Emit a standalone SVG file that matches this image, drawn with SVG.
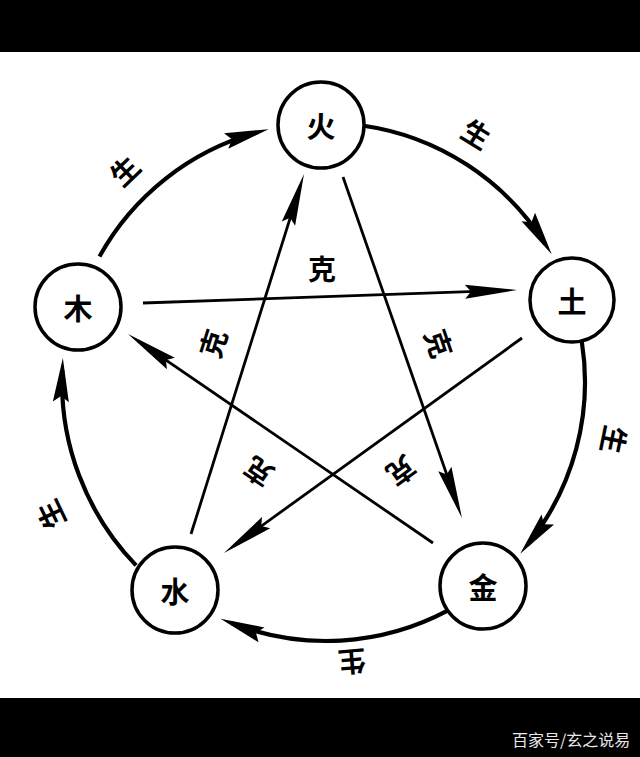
<svg xmlns="http://www.w3.org/2000/svg" width="640" height="757" viewBox="0 0 640 757">
<style>
.bg{fill:#000}
.node circle{fill:#fff;stroke:#000;stroke-width:3.5}
.node text,.lbl{font-family:"Noto Sans CJK SC","Noto Sans CJK TC",sans-serif;font-weight:700;fill:#000;text-anchor:middle;dominant-baseline:central}
.node text{font-size:29px}
.lbl{font-size:28px}
.arc{fill:none;stroke:#000;stroke-width:4.2;marker-end:url(#ah)}
.ke{fill:none;stroke:#000;stroke-width:2.8;marker-end:url(#ah2)}
.wm{font-family:"Noto Sans CJK SC",sans-serif;font-size:16px;fill:#e8e8e8}
</style>
<defs>
<marker id="ah" viewBox="-34 -10 48 20" refX="0" refY="0" markerWidth="48" markerHeight="20" markerUnits="userSpaceOnUse" orient="auto">
<path d="M12,0 L-32,-8 L-26,0 L-32,8 Z" fill="#000"/>
</marker>
<marker id="ah2" viewBox="-42 -9 56 18" refX="0" refY="0" markerWidth="56" markerHeight="18" markerUnits="userSpaceOnUse" orient="auto">
<path d="M12,0 L-40,-7 L-34,0 L-40,7 Z" fill="#000"/>
</marker>
</defs>
<rect x="0" y="0" width="640" height="757" fill="#fff"/>
<rect class="bg" x="0" y="0" width="640" height="52"/>
<rect class="bg" x="0" y="698" width="640" height="59"/>
<text class="wm" x="512" y="746">百家号/玄之说易</text>

<g id="connectors">
<path class="arc" d="M99.5,256.4 A259,259 0 0 1 257.0,132.4"/>
<path class="arc" d="M362.0,125.5 A259,259 0 0 1 545.3,244.2"/>
<path class="arc" d="M581.8,341.5 A259,259 0 0 1 527.7,544.5"/>
<path class="arc" d="M447.6,610.7 A259,259 0 0 1 231.7,623.2"/>
<path class="arc" d="M136.1,565.4 A264,264 0 0 1 62.3,370.0"/>

<path class="ke" d="M143,303 L505.0,290.4"/>
<path class="ke" d="M522,338 L233.7,546.0"/>
<path class="ke" d="M191,534 L300.4,185.4"/>
<path class="ke" d="M343,177 L458.0,506.7"/>
<path class="ke" d="M433,543 L137.9,340.8"/>

<text class="lbl" transform="translate(124,170) rotate(-44)">生</text>
<text class="lbl" transform="translate(477,133) rotate(31.5)">生</text>
<text class="lbl" transform="translate(615,440) rotate(101.5)">生</text>
<text class="lbl" transform="translate(352,663) rotate(175)">生</text>
<text class="lbl" transform="translate(50,515) rotate(-115.5)">生</text>

<text class="lbl" transform="translate(322,268)">克</text>
<text class="lbl" transform="translate(212,343) rotate(-72.5)">克</text>
<text class="lbl" transform="translate(440,343) rotate(71)">克</text>
<text class="lbl" transform="translate(402,472) rotate(144)">克</text>
<text class="lbl" transform="translate(258,473) rotate(-145.6)">克</text>
</g>

<g id="node-huo" class="node"><circle cx="321" cy="125" r="43"/><text x="321" y="125">火</text></g>
<g id="node-mu" class="node"><circle cx="78" cy="307" r="43"/><text x="78" y="307">木</text></g>
<g id="node-tu" class="node"><circle cx="572" cy="300" r="42"/><text x="572" y="300">土</text></g>
<g id="node-shui" class="node"><circle cx="175" cy="590" r="43"/><text x="175" y="590">水</text></g>
<g id="node-jin" class="node"><circle cx="483" cy="586" r="43"/><text x="483" y="586">金</text></g>
</svg>
